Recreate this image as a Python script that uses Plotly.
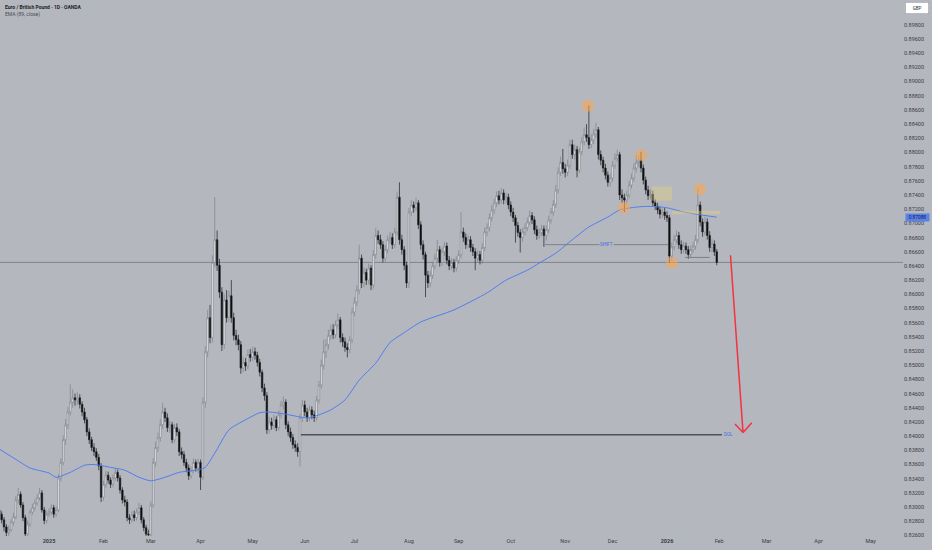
"""EUR/GBP daily candles with EMA(89) and the chart drawings, TradingView style."""

import numpy as np
import pandas as pd
import plotly.graph_objects as go

# --- daily candles, one per weekday from 2 Dec 2024 to 30 Jan 2026 ---
opens = [
    0.8300, 0.8296, 0.8290, 0.8282, 0.8272, 0.8264, 0.8268, 0.8279, 0.8286, 0.8310, 0.8318, 0.8303, 0.8285, 0.8262, 0.8276, 0.8293, 0.8299, 0.8306, 0.8313, 0.8320, 0.8296, 0.8281,
    0.8290, 0.8293, 0.8299, 0.8290, 0.8296, 0.8341, 0.8363, 0.8395, 0.8416, 0.8434, 0.8448, 0.8454, 0.8451, 0.8454, 0.8445, 0.8434, 0.8423, 0.8406, 0.8395, 0.8384, 0.8378, 0.8370, 0.8358,
    0.8314, 0.8332, 0.8345, 0.8338, 0.8332, 0.8341, 0.8349, 0.8341, 0.8324, 0.8310, 0.8307, 0.8285, 0.8282, 0.8289, 0.8285, 0.8293, 0.8299, 0.8282, 0.8271, 0.8262,
    0.8261, 0.8303, 0.8363, 0.8384, 0.8398, 0.8416, 0.8434, 0.8426, 0.8412, 0.8416, 0.8395, 0.8412, 0.8406, 0.8378, 0.8374, 0.8363, 0.8355, 0.8344, 0.8352, 0.8363, 0.8355,
    0.8363, 0.8342, 0.8448, 0.8519, 0.8567, 0.8539, 0.8645, 0.8677, 0.8641, 0.8603, 0.8529, 0.8592, 0.8567, 0.8598, 0.8567, 0.8542, 0.8536, 0.8529, 0.8496, 0.8504, 0.8499, 0.8515,
    0.8511, 0.8519, 0.8514, 0.8504, 0.8490, 0.8468, 0.8457, 0.8409, 0.8420, 0.8415, 0.8423, 0.8412, 0.8430, 0.8444, 0.8448, 0.8416, 0.8406, 0.8398, 0.8388, 0.8384, 0.8378, 0.8426,
    0.8444, 0.8434, 0.8426, 0.8437, 0.8430, 0.8426, 0.8451, 0.8472, 0.8500, 0.8519, 0.8529, 0.8542, 0.8550, 0.8543, 0.8557, 0.8564, 0.8539, 0.8533, 0.8525, 0.8522, 0.8536,
    0.8575, 0.8589, 0.8606, 0.8651, 0.8616, 0.8631, 0.8620, 0.8637, 0.8613, 0.8656, 0.8683, 0.8677, 0.8670, 0.8651, 0.8663, 0.8677, 0.8680, 0.8670, 0.8688, 0.8737, 0.8677, 0.8663, 0.8641,
    0.8616, 0.8716, 0.8726, 0.8722, 0.8729, 0.8698, 0.8670, 0.8656, 0.8627, 0.8616, 0.8627, 0.8640, 0.8651, 0.8663, 0.8645, 0.8660, 0.8668, 0.8648, 0.8640, 0.8645, 0.8637,
    0.8648, 0.8656, 0.8688, 0.8680, 0.8670, 0.8677, 0.8666, 0.8660, 0.8651, 0.8656, 0.8648, 0.8666, 0.8688, 0.8694, 0.8708, 0.8719, 0.8729, 0.8739, 0.8733, 0.8743, 0.8733, 0.8737,
    0.8726, 0.8716, 0.8708, 0.8697, 0.8687, 0.8680, 0.8688, 0.8694, 0.8702, 0.8711, 0.8705, 0.8691, 0.8683, 0.8687, 0.8692, 0.8683, 0.8691, 0.8705, 0.8716, 0.8727, 0.8747, 0.8772, 0.8786,
    0.8777, 0.8772, 0.8782, 0.8811, 0.8797, 0.8804, 0.8775, 0.8801, 0.8815, 0.8825, 0.8821, 0.8811, 0.8818, 0.8826, 0.8832, 0.8797, 0.8789, 0.8778, 0.8768, 0.8758,
    0.8764, 0.8782, 0.8792, 0.8797, 0.8740, 0.8736, 0.8733, 0.8740, 0.8754, 0.8764, 0.8778, 0.8786, 0.8789, 0.8778, 0.8761, 0.8747, 0.8739, 0.8741, 0.8729, 0.8724, 0.8719, 0.8713, 0.8716,
    0.8711, 0.8708, 0.8654, 0.8667, 0.8677, 0.8683, 0.8670, 0.8663, 0.8668, 0.8663, 0.8656, 0.8663, 0.8668, 0.8677, 0.8726, 0.8702, 0.8688, 0.8702, 0.8683, 0.8666, 0.8671, 0.8660,
]
highs = [
    0.8305, 0.8301, 0.8294, 0.8286, 0.8276, 0.8274, 0.8283, 0.8292, 0.8316, 0.8327, 0.8322, 0.8307, 0.8289, 0.8281, 0.8297, 0.8305, 0.8311, 0.8318, 0.8327, 0.8324, 0.8300, 0.8295,
    0.8298, 0.8304, 0.8303, 0.8301, 0.8346, 0.8369, 0.8401, 0.8424, 0.8441, 0.8473, 0.8466, 0.8460, 0.8462, 0.8459, 0.8449, 0.8440, 0.8427, 0.8411, 0.8399, 0.8390, 0.8383, 0.8375, 0.8362,
    0.8337, 0.8351, 0.8350, 0.8342, 0.8346, 0.8355, 0.8353, 0.8345, 0.8328, 0.8316, 0.8311, 0.8290, 0.8294, 0.8295, 0.8298, 0.8306, 0.8303, 0.8286, 0.8275, 0.8268,
    0.8308, 0.8369, 0.8392, 0.8405, 0.8424, 0.8447, 0.8440, 0.8432, 0.8422, 0.8420, 0.8417, 0.8418, 0.8410, 0.8384, 0.8379, 0.8368, 0.8360, 0.8357, 0.8369, 0.8367, 0.8368,
    0.8367, 0.8455, 0.8527, 0.8578, 0.8585, 0.8655, 0.8737, 0.8690, 0.8650, 0.8610, 0.8600, 0.8606, 0.8605, 0.8620, 0.8574, 0.8550, 0.8543, 0.8534, 0.8512, 0.8510, 0.8522, 0.8523,
    0.8526, 0.8525, 0.8519, 0.8509, 0.8494, 0.8474, 0.8462, 0.8427, 0.8426, 0.8430, 0.8428, 0.8436, 0.8450, 0.8456, 0.8452, 0.8421, 0.8412, 0.8403, 0.8394, 0.8390, 0.8432, 0.8451,
    0.8450, 0.8440, 0.8443, 0.8442, 0.8436, 0.8457, 0.8478, 0.8508, 0.8536, 0.8537, 0.8550, 0.8557, 0.8558, 0.8563, 0.8573, 0.8568, 0.8545, 0.8539, 0.8531, 0.8541, 0.8581,
    0.8596, 0.8613, 0.8670, 0.8656, 0.8638, 0.8636, 0.8643, 0.8641, 0.8662, 0.8694, 0.8690, 0.8684, 0.8675, 0.8669, 0.8683, 0.8688, 0.8686, 0.8694, 0.8745, 0.8758, 0.8684, 0.8668, 0.8646,
    0.8722, 0.8733, 0.8731, 0.8736, 0.8733, 0.8703, 0.8676, 0.8660, 0.8633, 0.8633, 0.8646, 0.8657, 0.8677, 0.8668, 0.8666, 0.8674, 0.8673, 0.8654, 0.8651, 0.8650, 0.8654,
    0.8662, 0.8716, 0.8694, 0.8686, 0.8683, 0.8682, 0.8671, 0.8665, 0.8662, 0.8661, 0.8672, 0.8694, 0.8700, 0.8714, 0.8726, 0.8735, 0.8745, 0.8746, 0.8750, 0.8748, 0.8743, 0.8742,
    0.8731, 0.8722, 0.8712, 0.8702, 0.8692, 0.8694, 0.8700, 0.8708, 0.8718, 0.8716, 0.8710, 0.8697, 0.8693, 0.8698, 0.8697, 0.8697, 0.8711, 0.8722, 0.8733, 0.8754, 0.8779, 0.8794, 0.8805,
    0.8784, 0.8790, 0.8818, 0.8818, 0.8811, 0.8809, 0.8807, 0.8822, 0.8835, 0.8840, 0.8866, 0.8826, 0.8833, 0.8842, 0.8836, 0.8803, 0.8794, 0.8784, 0.8773, 0.8770,
    0.8788, 0.8799, 0.8804, 0.8801, 0.8748, 0.8742, 0.8746, 0.8760, 0.8770, 0.8785, 0.8797, 0.8796, 0.8801, 0.8783, 0.8766, 0.8753, 0.8748, 0.8746, 0.8734, 0.8729, 0.8724, 0.8721, 0.8722,
    0.8717, 0.8712, 0.8673, 0.8684, 0.8690, 0.8688, 0.8676, 0.8674, 0.8673, 0.8668, 0.8669, 0.8674, 0.8684, 0.8750, 0.8731, 0.8707, 0.8709, 0.8707, 0.8689, 0.8678, 0.8676, 0.8664,
]
lows = [
    0.8290, 0.8285, 0.8277, 0.8266, 0.8259, 0.8258, 0.8265, 0.8274, 0.8283, 0.8305, 0.8299, 0.8280, 0.8258, 0.8259, 0.8272, 0.8289, 0.8294, 0.8302, 0.8309, 0.8292, 0.8276, 0.8277,
    0.8286, 0.8289, 0.8285, 0.8286, 0.8293, 0.8336, 0.8359, 0.8388, 0.8410, 0.8429, 0.8440, 0.8443, 0.8444, 0.8439, 0.8428, 0.8418, 0.8400, 0.8389, 0.8379, 0.8372, 0.8365, 0.8352, 0.8307,
    0.8309, 0.8327, 0.8333, 0.8327, 0.8328, 0.8337, 0.8336, 0.8319, 0.8305, 0.8301, 0.8280, 0.8276, 0.8278, 0.8280, 0.8281, 0.8289, 0.8277, 0.8266, 0.8258, 0.8256,
    0.8258, 0.8299, 0.8357, 0.8378, 0.8392, 0.8410, 0.8420, 0.8406, 0.8405, 0.8390, 0.8391, 0.8400, 0.8372, 0.8368, 0.8358, 0.8349, 0.8338, 0.8340, 0.8348, 0.8350, 0.8348,
    0.8324, 0.8338, 0.8440, 0.8511, 0.8531, 0.8532, 0.8638, 0.8633, 0.8595, 0.8520, 0.8523, 0.8560, 0.8561, 0.8560, 0.8535, 0.8528, 0.8521, 0.8488, 0.8490, 0.8492, 0.8494, 0.8505,
    0.8506, 0.8508, 0.8498, 0.8484, 0.8462, 0.8450, 0.8403, 0.8404, 0.8409, 0.8410, 0.8407, 0.8408, 0.8425, 0.8438, 0.8410, 0.8400, 0.8392, 0.8382, 0.8378, 0.8371, 0.8357, 0.8420,
    0.8428, 0.8420, 0.8421, 0.8424, 0.8420, 0.8422, 0.8446, 0.8467, 0.8494, 0.8510, 0.8522, 0.8536, 0.8537, 0.8538, 0.8551, 0.8532, 0.8526, 0.8519, 0.8511, 0.8517, 0.8531,
    0.8569, 0.8583, 0.8600, 0.8609, 0.8610, 0.8613, 0.8614, 0.8606, 0.8608, 0.8650, 0.8671, 0.8664, 0.8645, 0.8646, 0.8658, 0.8671, 0.8664, 0.8665, 0.8683, 0.8670, 0.8656, 0.8634, 0.8609,
    0.8609, 0.8710, 0.8715, 0.8717, 0.8692, 0.8663, 0.8649, 0.8596, 0.8609, 0.8610, 0.8622, 0.8635, 0.8646, 0.8639, 0.8640, 0.8654, 0.8642, 0.8634, 0.8635, 0.8631, 0.8632,
    0.8643, 0.8651, 0.8674, 0.8664, 0.8665, 0.8660, 0.8654, 0.8634, 0.8645, 0.8642, 0.8643, 0.8661, 0.8682, 0.8689, 0.8703, 0.8713, 0.8723, 0.8727, 0.8728, 0.8727, 0.8728, 0.8720,
    0.8710, 0.8702, 0.8673, 0.8681, 0.8659, 0.8674, 0.8683, 0.8689, 0.8697, 0.8699, 0.8685, 0.8677, 0.8678, 0.8682, 0.8667, 0.8676, 0.8686, 0.8700, 0.8711, 0.8722, 0.8742, 0.8767, 0.8770,
    0.8765, 0.8767, 0.8777, 0.8791, 0.8790, 0.8765, 0.8771, 0.8796, 0.8810, 0.8815, 0.8805, 0.8806, 0.8812, 0.8820, 0.8790, 0.8782, 0.8772, 0.8762, 0.8752, 0.8752,
    0.8759, 0.8777, 0.8787, 0.8733, 0.8729, 0.8716, 0.8727, 0.8735, 0.8749, 0.8759, 0.8772, 0.8780, 0.8772, 0.8755, 0.8741, 0.8733, 0.8734, 0.8724, 0.8719, 0.8713, 0.8707, 0.8708, 0.8705,
    0.8702, 0.8644, 0.8647, 0.8662, 0.8672, 0.8664, 0.8657, 0.8658, 0.8657, 0.8650, 0.8651, 0.8658, 0.8663, 0.8672, 0.8696, 0.8681, 0.8683, 0.8677, 0.8660, 0.8659, 0.8654, 0.8641,
]
closes = [
    0.8296, 0.8290, 0.8282, 0.8272, 0.8264, 0.8268, 0.8279, 0.8286, 0.8310, 0.8318, 0.8303, 0.8285, 0.8262, 0.8276, 0.8293, 0.8299, 0.8306, 0.8313, 0.8320, 0.8296, 0.8281, 0.8290,
    0.8293, 0.8299, 0.8290, 0.8296, 0.8341, 0.8363, 0.8395, 0.8416, 0.8434, 0.8448, 0.8454, 0.8451, 0.8454, 0.8445, 0.8434, 0.8423, 0.8406, 0.8395, 0.8384, 0.8378, 0.8370, 0.8358, 0.8314,
    0.8332, 0.8345, 0.8338, 0.8332, 0.8341, 0.8349, 0.8341, 0.8324, 0.8310, 0.8307, 0.8285, 0.8282, 0.8289, 0.8285, 0.8293, 0.8299, 0.8282, 0.8271, 0.8262, 0.8261,
    0.8303, 0.8363, 0.8384, 0.8398, 0.8416, 0.8434, 0.8426, 0.8412, 0.8416, 0.8395, 0.8412, 0.8406, 0.8378, 0.8374, 0.8363, 0.8355, 0.8344, 0.8352, 0.8363, 0.8355, 0.8363,
    0.8342, 0.8448, 0.8519, 0.8567, 0.8539, 0.8645, 0.8677, 0.8641, 0.8603, 0.8529, 0.8592, 0.8567, 0.8598, 0.8567, 0.8542, 0.8536, 0.8529, 0.8496, 0.8504, 0.8499, 0.8515, 0.8511,
    0.8519, 0.8514, 0.8504, 0.8490, 0.8468, 0.8457, 0.8409, 0.8420, 0.8415, 0.8423, 0.8412, 0.8430, 0.8444, 0.8448, 0.8416, 0.8406, 0.8398, 0.8388, 0.8384, 0.8378, 0.8426, 0.8444,
    0.8434, 0.8426, 0.8437, 0.8430, 0.8426, 0.8451, 0.8472, 0.8500, 0.8519, 0.8529, 0.8542, 0.8550, 0.8543, 0.8557, 0.8564, 0.8539, 0.8533, 0.8525, 0.8522, 0.8536, 0.8575,
    0.8589, 0.8606, 0.8651, 0.8616, 0.8631, 0.8620, 0.8637, 0.8613, 0.8656, 0.8683, 0.8677, 0.8670, 0.8651, 0.8663, 0.8677, 0.8680, 0.8670, 0.8688, 0.8737, 0.8677, 0.8663, 0.8641, 0.8616,
    0.8716, 0.8726, 0.8722, 0.8729, 0.8698, 0.8670, 0.8656, 0.8627, 0.8616, 0.8627, 0.8640, 0.8651, 0.8663, 0.8645, 0.8660, 0.8668, 0.8648, 0.8640, 0.8645, 0.8637, 0.8648,
    0.8656, 0.8688, 0.8680, 0.8670, 0.8677, 0.8666, 0.8660, 0.8651, 0.8656, 0.8648, 0.8666, 0.8688, 0.8694, 0.8708, 0.8719, 0.8729, 0.8739, 0.8733, 0.8743, 0.8733, 0.8737, 0.8726,
    0.8716, 0.8708, 0.8697, 0.8687, 0.8680, 0.8688, 0.8694, 0.8702, 0.8711, 0.8705, 0.8691, 0.8683, 0.8687, 0.8692, 0.8683, 0.8691, 0.8705, 0.8716, 0.8727, 0.8747, 0.8772, 0.8786, 0.8777,
    0.8772, 0.8782, 0.8811, 0.8797, 0.8804, 0.8775, 0.8801, 0.8815, 0.8825, 0.8821, 0.8811, 0.8818, 0.8826, 0.8832, 0.8797, 0.8789, 0.8778, 0.8768, 0.8758, 0.8764,
    0.8782, 0.8792, 0.8797, 0.8740, 0.8736, 0.8733, 0.8740, 0.8754, 0.8764, 0.8778, 0.8786, 0.8789, 0.8778, 0.8761, 0.8747, 0.8739, 0.8741, 0.8729, 0.8724, 0.8719, 0.8713, 0.8716, 0.8711,
    0.8708, 0.8654, 0.8667, 0.8677, 0.8683, 0.8670, 0.8663, 0.8668, 0.8663, 0.8656, 0.8663, 0.8668, 0.8677, 0.8726, 0.8702, 0.8688, 0.8702, 0.8683, 0.8666, 0.8671, 0.8660, 0.8645,
]

# EMA (89, close): candle index -> value
ema_at = [0, 10, 14, 22, 25, 31, 37, 41, 48, 54, 60, 65, 71, 77, 84, 88, 92, 98, 105, 111,
          115, 122, 128, 132, 136, 141, 147, 153, 160, 166, 172, 179, 193, 207, 215, 224,
          229, 236, 243, 250, 258, 263, 270, 276, 283, 290, 297, 304]
ema_values = [0.8384, 0.8363, 0.8355, 0.8348, 0.8342, 0.8349, 0.8359, 0.8360, 0.8356, 0.8352,
              0.8342, 0.8337, 0.8342, 0.8349, 0.8352, 0.8356, 0.8376, 0.8409, 0.8423, 0.8433,
              0.8434, 0.8431, 0.8427, 0.8426, 0.8430, 0.8437, 0.8451, 0.8479, 0.8503, 0.8532,
              0.8546, 0.8561, 0.8578, 0.8602, 0.8620, 0.8634, 0.8644, 0.8658, 0.8677, 0.8695,
              0.8709, 0.8719, 0.8723, 0.8724, 0.8722, 0.8716, 0.8712, 0.87088]

# swing points circled on the chart (candle index, price)
pivot_at = [249.6, 264.8, 272.0, 285.1, 296.9]
pivot_price = [0.8866, 0.8722, 0.8796, 0.8644, 0.8748]

month_ticks = ["2025-01-01", "2025-02-03", "2025-03-03", "2025-04-01", "2025-05-01",
               "2025-06-02", "2025-07-01", "2025-08-01", "2025-09-01", "2025-10-01",
               "2025-11-03", "2025-12-01", "2026-01-01", "2026-02-02", "2026-03-02",
               "2026-04-01", "2026-05-01"]
month_labels = ["<b>2025</b>", "Feb", "Mar", "Apr", "May", "Jun", "Jul", "Aug", "Sep",
                "Oct", "Nov", "Dec", "<b>2026</b>", "Feb", "Mar", "Apr", "May"]
price_ticks = [0.826, 0.828, 0.830, 0.832, 0.834, 0.836, 0.838, 0.840, 0.842, 0.844,
               0.846, 0.848, 0.850, 0.852, 0.854, 0.856, 0.858, 0.860, 0.862, 0.864,
               0.866, 0.868, 0.870, 0.872, 0.874, 0.876, 0.878, 0.880, 0.882, 0.884,
               0.886, 0.888, 0.890, 0.892, 0.894, 0.896, 0.898]

BG = "#b4b7be"
TEXT = "#3b3e46"
BLUE = "#3d6be0"
FONT = "Roboto"

days = pd.bdate_range("2024-12-02", periods=420)


def at(pos):
    """Trading-day position (fractions allowed) -> timestamp on the weekday axis."""
    k = int(np.floor(pos))
    return days[k] + pd.Timedelta(days=float(pos - k))


fig = go.Figure()

fig.add_trace(go.Candlestick(
    x=days[:len(closes)],
    open=opens, high=highs, low=lows, close=closes,
    increasing=dict(line=dict(color="#7f828a", width=0.7), fillcolor="#ffffff"),
    decreasing=dict(line=dict(color="#1e1f22", width=0.7), fillcolor="#050505"),
    whiskerwidth=0,
    hoverinfo="skip",
))

fig.add_trace(go.Scatter(
    x=[days[k] for k in ema_at], y=ema_values,
    mode="lines", line=dict(color="#4f7ef0", width=1, shape="spline", smoothing=0.6),
    hoverinfo="skip",
))

fig.add_trace(go.Scatter(
    x=[at(p) for p in pivot_at], y=pivot_price,
    mode="markers", marker=dict(size=12, color="rgba(255,166,72,0.55)", line=dict(width=0)),
    hoverinfo="skip",
))

last = closes[-1]
line_grey = "#7d8088"
shapes = [
    # last price line
    dict(type="line", xref="paper", x0=0, x1=1, y0=last, y1=last,
         line=dict(color="#80838b", width=1), layer="below"),
    # imbalance boxes
    dict(type="rect", x0=at(276.6), x1=at(285.1), y0=0.8732, y1=0.8752,
         fillcolor="rgba(232,214,120,0.38)", line=dict(width=0)),
    dict(type="rect", x0=at(285.1), x1=at(305.4), y0=0.8713, y1=0.8718,
         fillcolor="rgba(232,214,120,0.38)", line=dict(width=0)),
    # SHIFT level
    dict(type="line", x0=at(231.5), x1=at(283.4), y0=0.8670, y1=0.8670,
         line=dict(color=line_grey, width=1)),
    # small range floor
    dict(type="line", x0=at(290.6), x1=at(301.0), y0=0.8652, y1=0.8652,
         line=dict(color=line_grey, width=1)),
    # DOL level
    dict(type="line", x0=at(128.4), x1=at(306.2), y0=0.8402, y1=0.8402,
         line=dict(color="#505359", width=1.3)),
    # red projection arrow
    dict(type="line", x0=at(309.8), x1=at(315.1), y0=0.8655, y1=0.8405,
         line=dict(color="#f5323f", width=1.5)),
    dict(type="line", x0=at(311.7), x1=at(315.1), y0=0.8417, y1=0.8405,
         line=dict(color="#f5323f", width=1.5)),
    dict(type="line", x0=at(318.8), x1=at(315.1), y0=0.8419, y1=0.8405,
         line=dict(color="#f5323f", width=1.5)),
]

annotations = [
    dict(text="<b>Euro / British Pound · 1D · OANDA</b>", xref="paper", yref="paper",
         x=0, y=1, xanchor="left", yanchor="middle", xshift=3, yshift=-7,
         showarrow=False, font=dict(size=5, color="#1c1f26")),
    dict(text="EMA (89, close)", xref="paper", yref="paper",
         x=0, y=1, xanchor="left", yanchor="middle", xshift=3, yshift=-14,
         showarrow=False, font=dict(size=5, color="#4a4d55")),
    dict(text="SHIFT", x=at(257.6), y=0.8670, showarrow=False,
         bgcolor=BG, borderpad=0, font=dict(size=4.5, color=BLUE)),
    dict(text="DOL", x=at(309.0), y=0.8402, showarrow=False,
         font=dict(size=4.5, color=BLUE)),
    dict(text="GBP", xref="paper", yref="paper", x=1, y=1, xanchor="left", yanchor="top",
         xshift=2, yshift=-2, showarrow=False, width=21, height=9, borderpad=1,
         bgcolor="#ffffff", bordercolor="#9a9da5", borderwidth=0.6,
         font=dict(size=4.5, color="#2a2d34")),
    dict(text=f"{ema_values[-1]:.5f}", xref="paper", x=1, y=ema_values[-1],
         xanchor="left", xshift=2, showarrow=False, width=22, height=6, borderpad=0.5,
         bgcolor="#5a82ea", font=dict(size=4.8, color="#14204a")),
]

fig.update_layout(
    width=932, height=550, autosize=False,
    paper_bgcolor=BG, plot_bgcolor=BG,
    margin=dict(l=0, r=29, t=0, b=14),
    boxgap=0.12,
    showlegend=False,
    font=dict(family=FONT, size=5.5, color=TEXT),
    shapes=shapes,
    annotations=annotations,
    xaxis=dict(
        type="date",
        range=[at(1.31), at(382.65)],
        rangebreaks=[dict(bounds=["sat", "mon"])],
        rangeslider=dict(visible=False),
        tickvals=month_ticks, ticktext=month_labels,
        showgrid=False, zeroline=False, showline=False, ticks="",
        tickfont=dict(size=5.5, color=TEXT),
    ),
    yaxis=dict(
        side="right",
        range=[0.82592, 0.9015],
        tickvals=price_ticks, tickformat=".5f",
        showgrid=False, zeroline=False, showline=False, ticks="",
        tickfont=dict(size=5.5, color=TEXT),
    ),
)

# the page is exactly the chart size: drop the default body margin and the modebar
fig.write_html(
    "out.html",
    config={"displayModeBar": False},
    post_script="document.body.style.margin='0';document.body.style.overflow='hidden';",
)
